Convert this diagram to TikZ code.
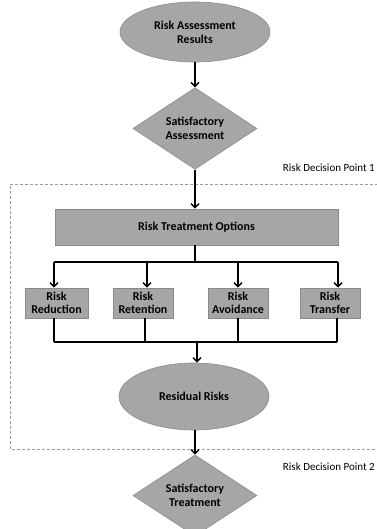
\documentclass[tikz,border=0pt]{standalone}
\usepackage{fontspec}
\setmainfont{Carlito}
\usetikzlibrary{shapes.geometric,arrows.meta}
\definecolor{boxfill}{HTML}{A6A6A6}
\definecolor{boxline}{HTML}{8A8A8A}
\definecolor{dashcol}{HTML}{9C9C9C}
\begin{document}
\begin{tikzpicture}[x=1pt,y=-1pt,
  shp/.style={fill=boxfill,draw=boxline,line width=0.6pt,inner sep=0pt,align=center,
    font=\bfseries\fontsize{12}{14.3}\selectfont,text=black},
  ell/.style={shp,ellipse},
  dia/.style={shp,diamond},
  rect/.style={shp,rectangle},
  small/.style={rect,minimum height=30,font=\bfseries\fontsize{12}{13.5}\selectfont},
  arr/.style={line width=1.4pt,-{Straight Barb[length=4pt,width=8pt,line width=1.4pt]}},
  ln/.style={line width=1.4pt},
  lbl/.style={font=\fontsize{11}{13}\selectfont,text=black,inner sep=0pt,anchor=east}]
\useasboundingbox (0,0) rectangle (376,529);
% dashed frame
\draw[dashcol,line width=0.8pt,dash pattern=on 3pt off 2pt] (378,184) -- (10,184) -- (10,449) -- (378,449);
\node[lbl] (l1) at (375,168) {Risk Decision Point 1};
\node[lbl] (l2) at (375,467) {Risk Decision Point 2};
% nodes
\node[ell,minimum width=150,minimum height=60] (top) at (195,32) {Risk Assessment\\Results};
\node[dia,minimum width=124,minimum height=67] (d1) at (195,128.5) {Satisfactory\\Assessment};
\node[rect,minimum width=283,minimum height=36] (rto) at (196.5,227) {Risk Treatment Options};
\node[small,minimum width=63] (b1) at (56.5,303) {Risk\\Reduction};
\node[small,minimum width=60] (b2) at (143,303) {Risk\\Retention};
\node[small,minimum width=60] (b3) at (238,303) {Risk\\Avoidance};
\node[small,minimum width=60] (b4) at (330,303) {Risk\\Transfer};
\node[ell,minimum width=150,minimum height=67] (res) at (194,396.5) {Residual Risks};
\node[dia,minimum width=124,minimum height=67] (d2) at (195,495.5) {Satisfactory\\Treatment};
% connectors
\draw[arr] (top) -- (d1);
\draw[arr] (d1) -- (d1 |- rto.north);
\coordinate (s1) at (54,262);
\coordinate (s2) at (147,262);
\coordinate (s3) at (238,262);
\coordinate (s4) at (338,262);
\coordinate (sj) at (195,262);
\draw[ln] (sj |- rto.south) -- (sj);
\draw[ln] (s1) -- (s4);
\draw[arr] (s1) -- (s1 |- b1.north);
\draw[arr] (s2) -- (s2 |- b2.north);
\draw[arr] (s3) -- (s3 |- b3.north);
\draw[arr] (s4) -- (s4 |- b4.north);
\coordinate (m1) at (54,342);
\coordinate (m2) at (145,342);
\coordinate (m3) at (238,342);
\coordinate (m4) at (337,342);
\draw[ln] (m1 |- b1.south) -- (m1);
\draw[ln] (m2 |- b2.south) -- (m2);
\draw[ln] (m3 |- b3.south) -- (m3);
\draw[ln] (m4 |- b4.south) -- (m4);
\draw[ln] (m1) -- (m4);
\coordinate (mj) at (197,342);
\draw[arr] (mj) -- (mj |- res.north);
\draw[arr] (res.south -| d2.north) -- (d2.north);
\end{tikzpicture}
\end{document}
